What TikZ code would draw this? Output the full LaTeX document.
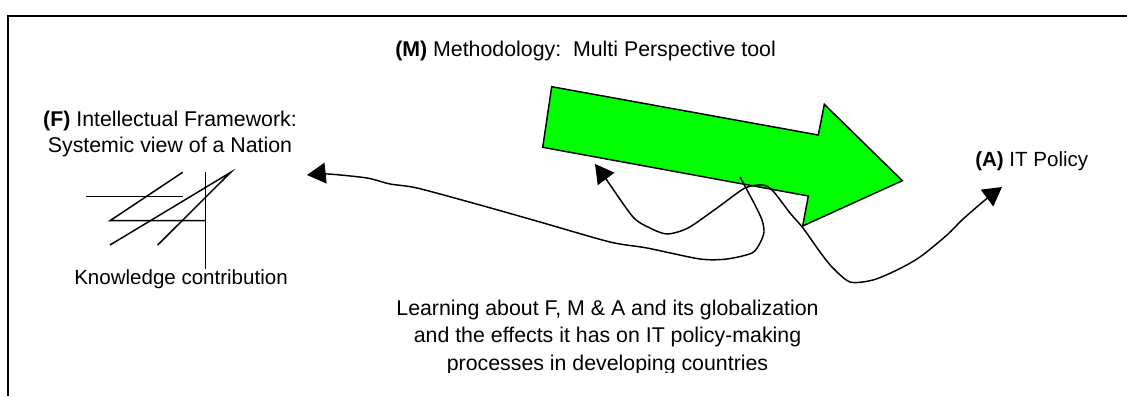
\documentclass[tikz,border=0pt]{standalone}
\usepackage{fontspec}
\setmainfont{Liberation Sans}
\usepackage{xcolor}
\usetikzlibrary{arrows.meta}
\definecolor{toolgreen}{RGB}{0,255,0}
\tikzset{wtip/.tip={Triangle[length=14pt,width=15.5pt]}}

\begin{document}
\begin{tikzpicture}[x=0.75pt,y=-0.75pt,
            lbl/.style={inner sep=0pt,font=\fontsize{15.4}{19}\selectfont},
            biglbl/.style={inner sep=0pt,font=\fontsize{16}{20.6}\selectfont},
            wire/.style={line width=1.1pt}]
            \useasboundingbox (0,0) rectangle (1127,396);
            \draw[line width=1.3pt] (8,396) -- (8,16) -- (1127,16);

            \node[biglbl,anchor=base west] at (395,56) (M) {\textbf{(M)} Methodology:\ \ Multi Perspective tool};
            \node[biglbl,anchor=base,align=center,font=\fontsize{16}{19}\selectfont] at (170,152) (F) {\textbf{(F)} Intellectual Framework:\\ Systemic view of a Nation};
            \node[lbl,anchor=base west] at (975,166) (A) {\textbf{(A)} IT Policy};
            \node[lbl,anchor=base] at (181,284) (K) {Knowledge contribution};
            \begin{scope}
                \clip (300,280) rectangle (950,372);
                \node[biglbl,anchor=base,align=center] at (607.5,370) (L) {Learning about F, M \& A and its globalization\\ and the effects it has on IT policy-making\\ processes in developing countries};
            \end{scope}

            % the tool
            \filldraw[fill=toolgreen,wire] (551.7,86.7) -- (818.3,135) -- (824.3,104.3) -- (902.3,180.7)
                -- (802.7,226) -- (808.3,196) -- (542.7,147.3) -- cycle;

            % framework sketch
            \draw[wire] (86,196.7) -- (182.7,196.7);
            \draw[wire] (182.7,172.3) -- (110,220.7) -- (205.7,220.7);
            \draw[wire] (205.7,172.3) -- (205.7,269);
            \draw[wire] (110,245) -- (230.7,172.3) -- (157.7,245);

            \coordinate (toF) at (307,175);
            \coordinate (fromTool) at (740,177);
            \coordinate (toM) at (595,164);
            \coordinate (toA) at (1002,187);

            \draw[wire,-wtip] plot[smooth,tension=0.45] coordinates {(fromTool) (755,205) (762,220) (764,232) (760,243)
                (752,253) (727,259) (700,259) (647,248) (610,242) (540,222) (480,205) (417,188) (390,184)
                (367,178) (328,174) (toF)};
            \draw[wire,wtip-wtip] plot[smooth,tension=0.45] coordinates {(toM) (606,179) (633,217) (650,228) (667,234)
                (688,228) (717,208) (745,188) (763,185) (773,191) (790,213) (803,228) (820,252) (832,267)
                (850,282) (873,280) (897,270) (920,257) (947,235) (962,220) (985,200) (toA)};
        \end{tikzpicture}
\end{document}
